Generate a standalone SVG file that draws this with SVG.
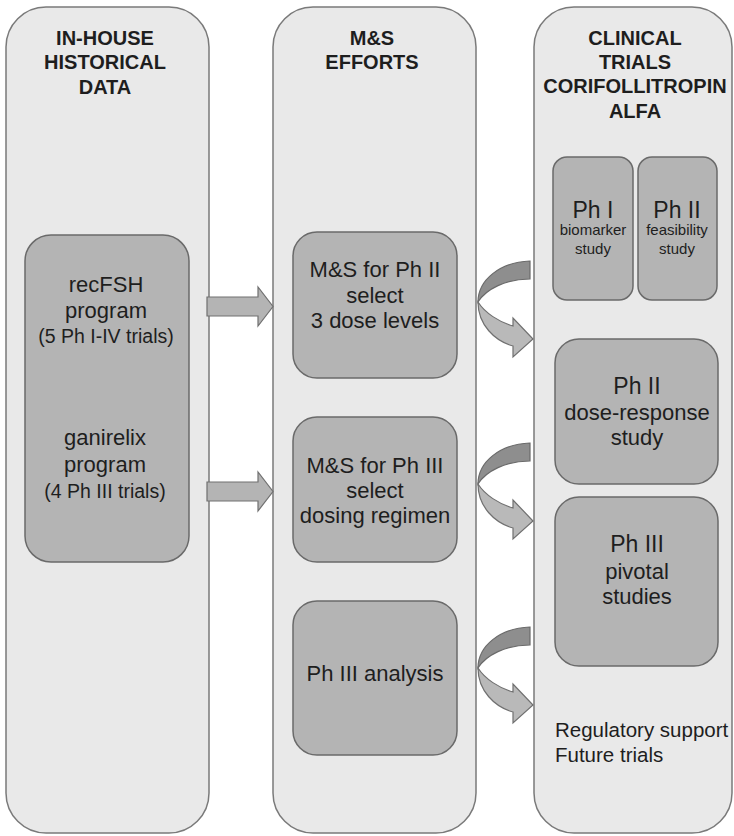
<svg xmlns="http://www.w3.org/2000/svg" width="734" height="836" viewBox="0 0 734 836">
<defs>
<style>
.col{fill:#e9e9e9;stroke:#7a7a7a;stroke-width:1.5}
.box{fill:#b4b4b4;stroke:#6a6a6a;stroke-width:1.5}
.hd{font-family:"Liberation Sans",Arial,sans-serif;font-weight:bold;font-size:20px;fill:#1e1e1e;text-anchor:middle}
.t{font-family:"Liberation Sans",Arial,sans-serif;font-size:22px;fill:#1e1e1e;text-anchor:middle}
.s{font-family:"Liberation Sans",Arial,sans-serif;font-size:19.5px;fill:#1e1e1e;text-anchor:middle}
.xs{font-family:"Liberation Sans",Arial,sans-serif;font-size:15px;fill:#1e1e1e;text-anchor:middle}
.l{font-family:"Liberation Sans",Arial,sans-serif;font-size:20.5px;fill:#1e1e1e}
.arr{fill:#b4b4b4;stroke:#707070;stroke-width:1.2}
.dk{fill:#8e8e8e;stroke:#6a6a6a;stroke-width:1.2}
.lt{fill:#b9b9b9;stroke:#707070;stroke-width:1.2}
</style>
<g id="curved">
<path class="lt" d="M478,302 C478,325 495,341 513,346 L513,357 L533,339 L513,318 L513,326 C499,322 485,313 478,302 Z"/>
<path class="dk" d="M530,261 C500,262 478,280 478,302 C486,289 506,279 530,279 Z"/>
</g>
</defs>

<g id="col-historical">
<rect class="col" x="6" y="7" width="203" height="826" rx="40"/>
<text class="hd" x="105" y="45">IN-HOUSE</text>
<text class="hd" x="105" y="69">HISTORICAL</text>
<text class="hd" x="105" y="94">DATA</text>
</g>
<g id="col-ms">
<rect class="col" x="273" y="7" width="203" height="826" rx="40"/>
<text class="hd" x="372" y="45">M&amp;S</text>
<text class="hd" x="372" y="69">EFFORTS</text>
</g>
<g id="col-clinical">
<rect class="col" x="534" y="7" width="198" height="826" rx="40"/>
<text class="hd" x="635" y="45">CLINICAL</text>
<text class="hd" x="635" y="69">TRIALS</text>
<text class="hd" x="635" y="93">CORIFOLLITROPIN</text>
<text class="hd" x="635" y="118">ALFA</text>
</g>

<g id="historical-programs">
<rect class="box" x="25" y="235" width="164" height="327" rx="26"/>
<text class="t" x="106" y="292">recFSH</text>
<text class="t" x="106" y="318">program</text>
<text class="s" x="106" y="343">(5 Ph I-IV trials)</text>
<text class="t" x="105" y="445">ganirelix</text>
<text class="t" x="105" y="472">program</text>
<text class="s" x="105" y="498">(4 Ph III trials)</text>
</g>

<g id="ms-ph2">
<rect class="box" x="293" y="232" width="164" height="146" rx="24"/>
<text class="t" x="375" y="277">M&amp;S for Ph II</text>
<text class="t" x="375" y="303">select</text>
<text class="t" x="375" y="328">3 dose levels</text>
</g>
<g id="ms-ph3">
<rect class="box" x="293" y="417" width="164" height="145" rx="24"/>
<text class="t" x="375" y="473">M&amp;S for Ph III</text>
<text class="t" x="375" y="498">select</text>
<text class="t" x="375" y="523">dosing regimen</text>
</g>
<g id="ms-analysis">
<rect class="box" x="293" y="601" width="164" height="154" rx="24"/>
<text class="t" x="375" y="681">Ph III analysis</text>
</g>

<g id="ph1-biomarker">
<rect class="box" x="553" y="157" width="80" height="143" rx="14"/>
<text class="t" x="593" y="218" style="font-size:23px">Ph I</text>
<text class="xs" x="593" y="235">biomarker</text>
<text class="xs" x="593" y="254">study</text>
</g>
<g id="ph2-feasibility">
<rect class="box" x="638" y="157" width="79" height="143" rx="14"/>
<text class="t" x="677" y="218" style="font-size:23px">Ph II</text>
<text class="xs" x="677" y="235">feasibility</text>
<text class="xs" x="677" y="254">study</text>
</g>
<g id="ph2-dose-response">
<rect class="box" x="555" y="339" width="163" height="145" rx="24"/>
<text class="t" x="637" y="394" style="font-size:23px">Ph II</text>
<text class="t" x="637" y="420">dose-response</text>
<text class="t" x="637" y="445">study</text>
</g>
<g id="ph3-pivotal">
<rect class="box" x="555" y="497" width="163" height="169" rx="24"/>
<text class="t" x="637" y="552" style="font-size:23px">Ph III</text>
<text class="t" x="637" y="579">pivotal</text>
<text class="t" x="637" y="604">studies</text>
</g>
<g id="regulatory">
<text class="l" x="555" y="737">Regulatory support</text>
<text class="l" x="555" y="762">Future trials</text>
</g>

<g id="connectors">
<path class="arr" d="M207,297 L258,297 L258,287 L273,306.5 L258,326 L258,316 L207,316 Z"/>
<path class="arr" d="M207,482 L258,482 L258,472 L273,491.5 L258,511 L258,501 L207,501 Z"/>
<use href="#curved"/>
<use href="#curved" transform="translate(0,182)"/>
<use href="#curved" transform="translate(0,366)"/>
</g>
</svg>
